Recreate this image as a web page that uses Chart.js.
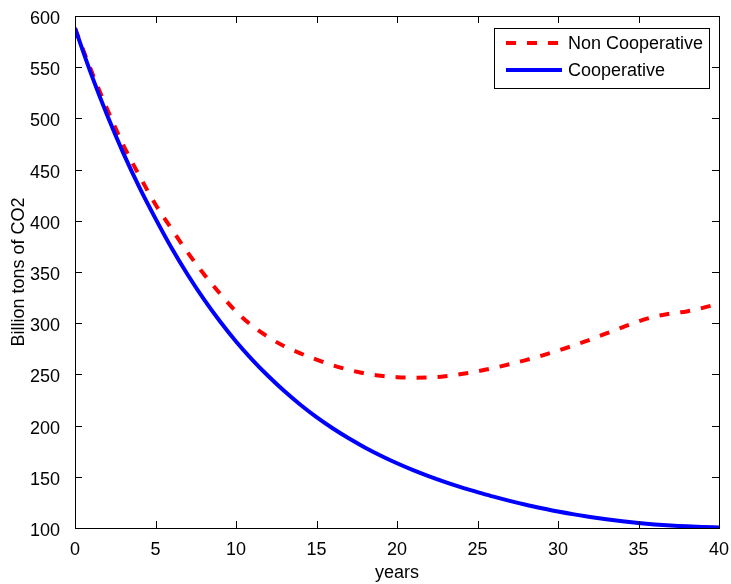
<!DOCTYPE html>
<html><head><meta charset="utf-8">
<script src="https://cdn.jsdelivr.net/npm/chart.js@4/dist/chart.umd.min.js"></script>
<style>html,body{margin:0;padding:0;background:#fff;}#wrap{width:731px;height:584px;position:relative;}</style>
</head><body><div id="wrap"><canvas id="c" width="731" height="584"></canvas></div>
<script>
const years = [0,1,2,3,4,5,6,7,8,9,10,11,12,13,14,15,16,17,18,19,20,21,22,23,24,25,26,27,28,29,30,31,32,33,34,35,36,37,38,39,40];
const nonCooperative = [588,547,509,474,444,416,392,369,348,329,311.5,297.5,286.5,277.5,270.5,264.5,259,254.5,251,248.7,247.3,246.8,247,248.2,250.3,253,256.3,260,264,268.4,273.2,278.4,284,290,296,301.8,306.5,309.5,311.5,315,319];
const cooperative = [588,543.5,503,466.1,432.6,402.1,373.4,347.3,323.5,301.9,282.2,264.5,248.4,233.7,220.3,208.2,197.4,187.6,178.7,170.6,163.2,156.5,150.4,144.8,139.7,135.1,130.6,126.5,122.7,119.3,116.1,113.3,110.8,108.6,106.6,104.9,103.5,102.4,101.6,101,100.5];
const xTickValues = [0,5,10,15,20,25,30,35,40];
const yTickValues = [100,150,200,250,300,350,400,450,500,550,600];
const seriesLabels = ['Non Cooperative','Cooperative'];
const xTitle = 'years';
const yTitle = 'Billion tons of CO2';

const FONT = 'Liberation Sans, Arial, Helvetica, sans-serif';

const framePlugin = {
  id: 'frame',
  afterDatasetsDraw(chart) {
    const ctx = chart.ctx;
    const {left, right, top, bottom} = chart.chartArea;
    const xs = chart.scales.x, ys = chart.scales.y;
    const L = 7;
    ctx.save();
    ctx.strokeStyle = '#000';
    ctx.lineWidth = 1;
    ctx.setLineDash([]);
    ctx.beginPath();
    xs.ticks.forEach(t => {
      const px = Math.round(xs.getPixelForValue(t.value)) + 0.5;
      ctx.moveTo(px, bottom); ctx.lineTo(px, bottom - L);
      ctx.moveTo(px, top); ctx.lineTo(px, top + L);
    });
    ys.ticks.forEach(t => {
      const py = Math.round(ys.getPixelForValue(t.value)) + 0.5;
      ctx.moveTo(left, py); ctx.lineTo(left + L, py);
      ctx.moveTo(right, py); ctx.lineTo(right - L, py);
    });
    ctx.stroke();
    ctx.strokeRect(Math.round(left) + 0.5, Math.round(top) + 0.5, Math.round(right - left), Math.round(bottom - top));

    // legend
    const bx = Math.round(right) - 225, by = Math.round(top) + 12, bw = 215, bh = 60;
    ctx.fillStyle = '#fff';
    ctx.fillRect(bx, by, bw, bh);
    ctx.strokeStyle = '#000';
    ctx.lineWidth = 1;
    ctx.strokeRect(bx + 0.5, by + 0.5, bw, bh);
    chart.data.datasets.forEach((ds, i) => {
      const ly = by + 15 + i * 27;
      ctx.beginPath();
      ctx.strokeStyle = ds.borderColor;
      ctx.lineWidth = ds.borderWidth;
      ctx.setLineDash(ds.borderDash || []);
      ctx.moveTo(bx + 12, ly);
      ctx.lineTo(bx + 68, ly);
      ctx.stroke();
      ctx.setLineDash([]);
      ctx.fillStyle = '#000';
      ctx.font = '18px ' + FONT;
      ctx.textBaseline = 'middle';
      ctx.textAlign = 'left';
      ctx.fillText(ds.label, bx + 74, ly + 1);
    });
    ctx.restore();
  }
};

const ctx = document.getElementById('c').getContext('2d');
new Chart(ctx, {
  type: 'line',
  data: {
    datasets: [
      {
        label: seriesLabels[0],
        data: years.map((x, i) => ({x: x, y: nonCooperative[i]})),
        borderColor: '#ff0000',
        borderWidth: 4,
        borderDash: [10, 11],
        pointRadius: 0,
        fill: false,
        order: 1,
        cubicInterpolationMode: 'monotone'
      },
      {
        label: seriesLabels[1],
        data: years.map((x, i) => ({x: x, y: cooperative[i]})),
        borderColor: '#0000ff',
        borderWidth: 4,
        pointRadius: 0,
        fill: false,
        order: 0,
        cubicInterpolationMode: 'monotone'
      }
    ]
  },
  options: {
    responsive: false,
    animation: false,
    devicePixelRatio: 1,
    layout: {padding: {left: 0, right: 12, top: 16, bottom: 0}},
    plugins: {legend: {display: false}, tooltip: {enabled: false}},
    scales: {
      x: {
        type: 'linear',
        min: 0, max: 40,
        afterBuildTicks: s => { s.ticks = xTickValues.map(v => ({value: v})); },
        afterFit: s => { s.height = 56; s.paddingLeft = 0; s.paddingRight = 0; },
        grid: {display: false},
        border: {display: false},
        ticks: {color: '#000', font: {family: FONT, size: 18}, padding: 3, maxRotation: 0},
        title: {display: true, text: xTitle, color: '#000', font: {family: FONT, size: 18}, padding: {top: 0, bottom: 0}}
      },
      y: {
        type: 'linear',
        min: 100, max: 600,
        afterBuildTicks: s => { s.ticks = yTickValues.map(v => ({value: v})); },
        afterFit: s => { s.width = 75; s.paddingTop = 0; s.paddingBottom = 0; },
        grid: {display: false},
        border: {display: false},
        ticks: {color: '#000', font: {family: FONT, size: 18}, padding: 7, labelOffset: 3},
        title: {display: true, text: yTitle, color: '#000', font: {family: FONT, size: 18}, padding: {top: 8, bottom: 0}}
      }
    }
  },
  plugins: [framePlugin]
});
</script>
</body></html>
